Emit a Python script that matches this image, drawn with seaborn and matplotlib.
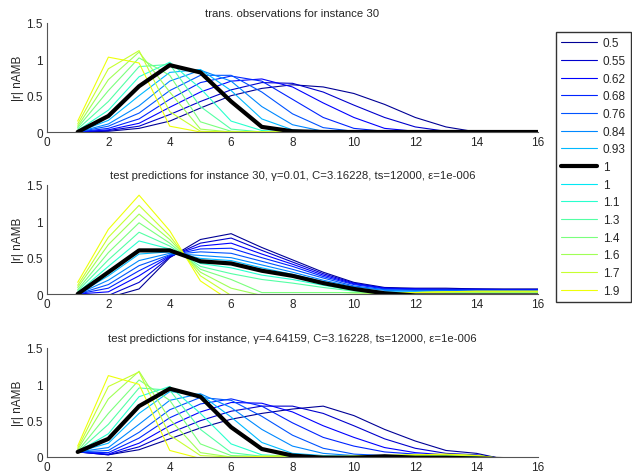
import numpy as np
import pandas as pd
import matplotlib
matplotlib.use("Agg")
import matplotlib.pyplot as plt
import seaborn as sns

x = list(range(1, 17))
labels = ["0.5", "0.55", "0.62", "0.68", "0.76", "0.84", "0.93",
          "1", "1.1", "1.3", "1.4", "1.6", "1.7", "1.9"]

# panel 1: observations, one row per parameter value (same order as labels)
obs = [
    [0, 0.01, 0.05, 0.15, 0.33, 0.50, 0.60, 0.65, 0.62, 0.53, 0.38, 0.20, 0.07, 0.00, 0, 0],
    [0, 0.02, 0.08, 0.24, 0.42, 0.58, 0.68, 0.67, 0.55, 0.37, 0.20, 0.07, 0.01, 0, 0, 0],
    [0, 0.03, 0.12, 0.34, 0.55, 0.70, 0.73, 0.62, 0.40, 0.20, 0.05, 0.01, 0, 0, 0, 0],
    [0, 0.05, 0.18, 0.45, 0.68, 0.77, 0.70, 0.45, 0.20, 0.05, 0.01, 0, 0, 0, 0, 0],
    [0, 0.08, 0.26, 0.57, 0.78, 0.78, 0.55, 0.25, 0.06, 0.01, 0, 0, 0, 0, 0, 0],
    [0, 0.11, 0.36, 0.70, 0.85, 0.70, 0.35, 0.10, 0.01, 0, 0, 0, 0, 0, 0, 0],
    [0, 0.16, 0.50, 0.82, 0.86, 0.57, 0.18, 0.03, 0, 0, 0, 0, 0, 0, 0, 0],
    [0, 0.22, 0.63, 0.92, 0.82, 0.42, 0.07, 0.01, 0, 0, 0, 0, 0, 0, 0, 0],
    [0.02, 0.30, 0.76, 0.96, 0.60, 0.15, 0.02, 0, 0, 0, 0, 0, 0, 0, 0, 0],
    [0.04, 0.42, 0.90, 0.93, 0.35, 0.04, 0, 0, 0, 0, 0, 0, 0, 0, 0, 0],
    [0.06, 0.57, 1.02, 0.78, 0.14, 0.01, 0, 0, 0, 0, 0, 0, 0, 0, 0, 0],
    [0.08, 0.72, 1.10, 0.55, 0.04, 0, 0, 0, 0, 0, 0, 0, 0, 0, 0, 0],
    [0.11, 0.87, 1.12, 0.28, 0.01, 0, 0, 0, 0, 0, 0, 0, 0, 0, 0, 0],
    [0.15, 1.03, 0.95, 0.08, 0, 0, 0, 0, 0, 0, 0, 0, 0, 0, 0, 0],
]

# panel 2: test predictions, gamma=0.01
pred_a = [
    [-0.02, -0.05, 0.07, 0.50, 0.75, 0.83, 0.64, 0.47, 0.30, 0.16, 0.09, 0.08, 0.08, 0.07, 0.07, 0.07],
    [-0.01, -0.02, 0.16, 0.51, 0.70, 0.77, 0.60, 0.44, 0.28, 0.15, 0.08, 0.07, 0.07, 0.07, 0.06, 0.06],
    [0, 0.03, 0.25, 0.52, 0.66, 0.70, 0.55, 0.41, 0.26, 0.14, 0.08, 0.07, 0.06, 0.06, 0.06, 0.06],
    [0, 0.08, 0.32, 0.53, 0.62, 0.63, 0.50, 0.38, 0.24, 0.13, 0.07, 0.06, 0.06, 0.05, 0.05, 0.05],
    [0, 0.13, 0.39, 0.54, 0.58, 0.56, 0.45, 0.34, 0.22, 0.11, 0.06, 0.05, 0.05, 0.05, 0.05, 0.05],
    [0, 0.19, 0.46, 0.56, 0.53, 0.50, 0.40, 0.30, 0.19, 0.10, 0.05, 0.04, 0.04, 0.04, 0.04, 0.04],
    [0, 0.25, 0.55, 0.58, 0.49, 0.46, 0.36, 0.27, 0.17, 0.08, 0.03, 0.03, 0.03, 0.03, 0.03, 0.03],
    [0, 0.30, 0.60, 0.60, 0.45, 0.42, 0.32, 0.25, 0.15, 0.07, 0.01, -0.02, -0.02, -0.02, -0.02, -0.02],
    [0.02, 0.38, 0.73, 0.62, 0.42, 0.36, 0.26, 0.20, 0.12, 0.05, 0.02, 0.02, 0.02, 0.02, 0.02, 0.02],
    [0.04, 0.47, 0.85, 0.66, 0.38, 0.28, 0.20, 0.15, 0.09, 0.04, 0.02, 0.02, 0.02, 0.02, 0.02, 0.02],
    [0.06, 0.57, 0.98, 0.70, 0.34, 0.20, 0.02, 0.02, 0.02, 0.02, 0.02, 0.02, 0.02, 0.02, 0.02, 0.02],
    [0.09, 0.68, 1.10, 0.75, 0.30, 0.08, -0.02, -0.03, -0.02, 0.00, 0.01, 0.02, 0.03, 0.03, 0.03, 0.03],
    [0.12, 0.78, 1.22, 0.80, 0.25, -0.02, -0.08, -0.07, -0.05, -0.02, 0.00, 0.02, 0.03, 0.03, 0.03, 0.03],
    [0.16, 0.89, 1.36, 0.87, 0.18, -0.10, -0.18, -0.12, -0.06, -0.02, 0.00, 0.02, 0.03, 0.04, 0.04, 0.04],
]

# panel 3: test predictions, gamma=4.64159
pred_b = [
    [0.07, 0.03, 0.10, 0.25, 0.40, 0.52, 0.60, 0.66, 0.70, 0.57, 0.38, 0.22, 0.09, 0.05, -0.04, -0.06],
    [0.07, 0.03, 0.14, 0.33, 0.50, 0.63, 0.70, 0.70, 0.60, 0.43, 0.25, 0.12, 0.05, 0.03, -0.03, -0.05],
    [0.07, 0.04, 0.19, 0.43, 0.62, 0.75, 0.74, 0.62, 0.43, 0.27, 0.13, 0.06, 0.03, 0.02, -0.03, -0.04],
    [0.07, 0.06, 0.26, 0.54, 0.73, 0.80, 0.70, 0.47, 0.27, 0.15, 0.07, 0.04, 0.02, 0.02, -0.03, -0.04],
    [0.07, 0.09, 0.34, 0.65, 0.82, 0.78, 0.56, 0.30, 0.12, 0.04, 0.02, 0.02, 0.02, 0.01, -0.03, -0.04],
    [0.07, 0.13, 0.45, 0.78, 0.87, 0.68, 0.38, 0.15, 0.05, 0.02, 0.01, 0.01, 0.01, 0.01, -0.03, -0.04],
    [0.07, 0.19, 0.60, 0.90, 0.86, 0.55, 0.20, 0.05, 0.02, 0.01, 0.01, 0.01, 0.01, 0.01, -0.03, -0.04],
    [0.07, 0.25, 0.70, 0.94, 0.83, 0.41, 0.11, 0.02, -0.01, -0.01, 0.01, -0.01, -0.01, -0.02, -0.03, -0.04],
    [0.07, 0.32, 0.83, 0.97, 0.60, 0.18, 0.03, 0.01, 0.00, 0.00, 0.01, 0.02, 0.02, 0.01, -0.03, -0.04],
    [0.07, 0.45, 0.95, 0.92, 0.38, 0.06, 0.01, 0.00, 0.00, 0.01, 0.02, 0.02, 0.02, 0.01, -0.03, -0.04],
    [0.08, 0.60, 1.06, 0.78, 0.18, 0.02, 0.01, 0.00, 0.00, 0.01, 0.02, 0.02, 0.03, 0.02, -0.03, -0.04],
    [0.10, 0.80, 1.18, 0.52, 0.06, 0.00, 0.00, 0.00, 0.00, 0.01, 0.02, 0.03, 0.03, 0.02, -0.03, -0.04],
    [0.12, 0.97, 1.17, 0.30, 0.02, 0.00, 0.00, 0.00, 0.00, 0.01, 0.02, 0.03, 0.03, 0.02, -0.03, -0.04],
    [0.15, 1.12, 1.00, 0.09, -0.02, -0.01, 0.01, 0.02, 0.01, 0.01, 0.02, 0.03, 0.04, 0.02, -0.03, -0.04],
]

black_idx = 7  # the "1" series drawn again as a thick black line

titles = [
    "trans. observations for instance 30",
    "test predictions for instance 30, \u03b3=0.01, C=3.16228, ts=12000, \u03b5=1e-006",
    "test predictions for instance, \u03b3=4.64159, C=3.16228, ts=12000, \u03b5=1e-006",
]

sns.set_style("white")
plt.rcParams["font.family"] = ["Liberation Sans", "DejaVu Sans"]

colors = matplotlib.colormaps["jet"](np.linspace(0.02, 0.64, len(labels)))

fig = plt.figure(figsize=(6.32, 4.77), dpi=100)
left, width, height = 47 / 632, 491 / 632, 109 / 477
bottoms = [1 - 133 / 477, 1 - 295 / 477, 1 - 458 / 477]

handles = []
for p, (data, title) in enumerate(zip([obs, pred_a, pred_b], titles)):
    ax = fig.add_axes([left, bottoms[p], width, height])
    for i, lab in enumerate(labels):
        df = pd.DataFrame({"x": x, "y": data[i]})
        sns.lineplot(data=df, x="x", y="y", color=colors[i], linewidth=0.8, ax=ax)
    df = pd.DataFrame({"x": x, "y": data[black_idx]})
    sns.lineplot(data=df, x="x", y="y", color="black", linewidth=3.0, ax=ax)
    if p == 0:
        lines = ax.get_lines()
        handles = lines[:black_idx] + [lines[-1]] + lines[black_idx:len(labels)]
    ax.set_xlim(0, 16)
    ax.set_ylim(0, 1.5)
    ax.set_xticks(range(0, 17, 2))
    ax.set_yticks([0, 0.5, 1, 1.5])
    ax.set_yticklabels(["0", "0.5", "1", "1.5"])
    ax.set_xlabel("")
    ax.set_ylabel("|r| nAMB", fontsize=8.5, labelpad=2)
    ax.set_title(title, fontsize=8.2, pad=5)
    ax.tick_params(direction="in", length=3, labelsize=8.5, colors="#262626", pad=3)
    sns.despine(ax=ax)
    for s in ["left", "bottom"]:
        ax.spines[s].set_color("#555555")
        ax.spines[s].set_linewidth(0.8)

leg_labels = labels[:black_idx] + ["1"] + labels[black_idx:]
fig.legend(handles, leg_labels, loc="upper left",
           bbox_to_anchor=(556 / 632, 1 - 33 / 477), fontsize=8.5,
           handlelength=3.0, handletextpad=0.5, borderpad=0.45,
           frameon=True, fancybox=False, edgecolor="black",
           labelspacing=0.48, borderaxespad=0)

fig.savefig("out.png", dpi=100)
